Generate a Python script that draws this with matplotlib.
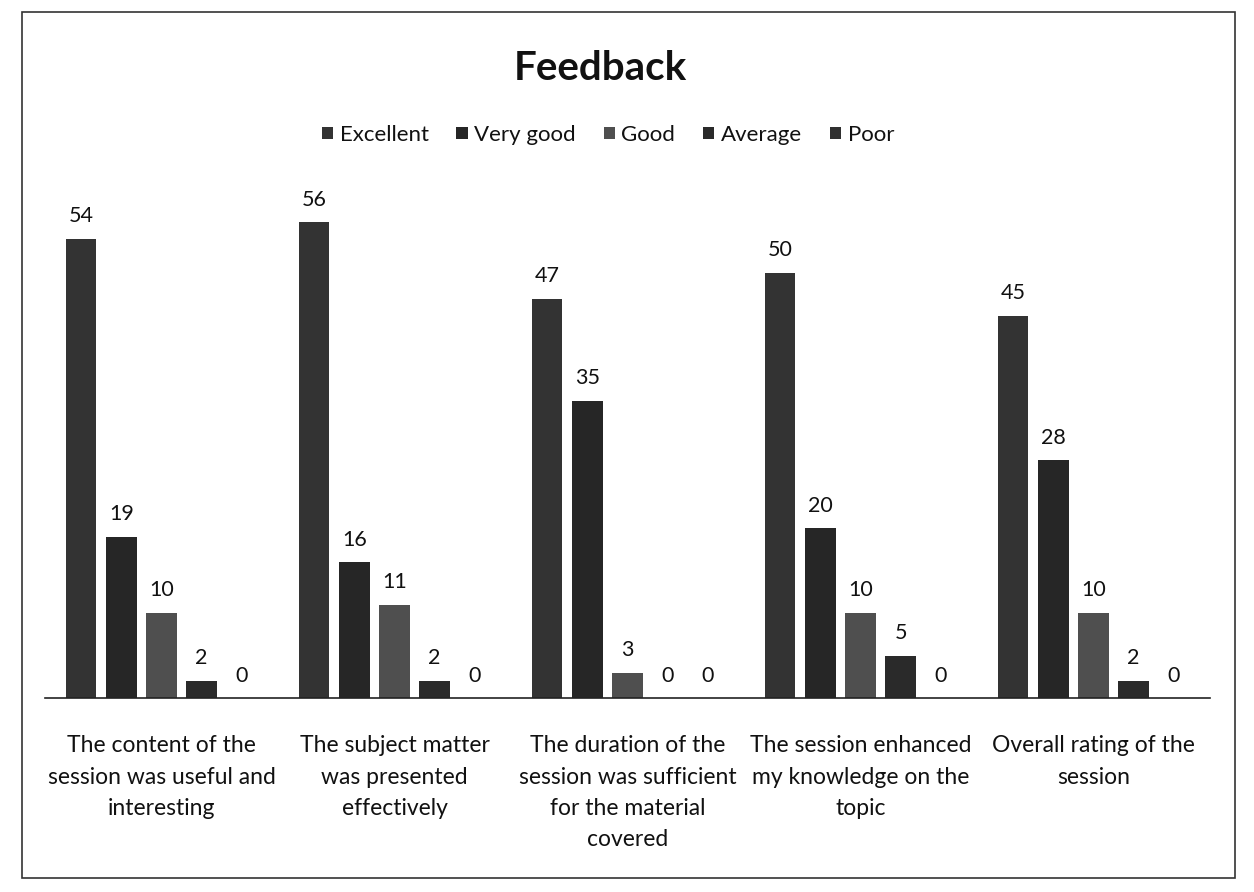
import matplotlib
matplotlib.use("Agg")
import matplotlib.pyplot as plt
import numpy as np
from matplotlib.patches import Rectangle

categories = [
    "The content of the\nsession was useful and\ninteresting",
    "The subject matter\nwas presented\neffectively",
    "The duration of the\nsession was sufficient\nfor the material\ncovered",
    "The session enhanced\nmy knowledge on the\ntopic",
    "Overall rating of the\nsession",
]
series_names = ["Excellent", "Very good", "Good", "Average", "Poor"]
excellent = [54, 56, 47, 50, 45]
very_good = [19, 16, 35, 20, 28]
good = [10, 11, 3, 10, 10]
average = [2, 2, 0, 5, 2]
poor = [0, 0, 0, 0, 0]
series_values = [excellent, very_good, good, average, poor]
colors = ["#333333", "#262626", "#4f4f4f", "#2a2a2a", "#303030"]

plt.rcParams['font.family'] = ['Lato', 'DejaVu Sans']

fig = plt.figure(figsize=(12.54, 8.92), dpi=100)
ax = fig.add_axes([45/1254, 194/892, 1165/1254, 510/892])

x = np.arange(len(categories))
bw = 0.13
step = 0.172
for i, (name, vals, c) in enumerate(zip(series_names, series_values, colors)):
    pos = x + (i - 2) * step
    bars = ax.bar(pos, vals, width=bw, color=c, label=name)
    for b, v in zip(bars, vals):
        ax.annotate(str(v), (b.get_x() + b.get_width()/2, b.get_height()),
                    xytext=(0, 9), textcoords="offset points",
                    ha="center", va="bottom", fontsize=15.5, color="#111111")

ax.set_xlim(-0.5, 4.5)
ax.set_ylim(0, 60)
for s in ["top", "right", "left"]:
    ax.spines[s].set_visible(False)
ax.spines["bottom"].set_color("#222222")
ax.spines["bottom"].set_linewidth(1.2)
ax.set_yticks([])
ax.set_xticks(x)
ax.set_xticklabels(categories, fontsize=16.5, color="#111111", linespacing=1.6)
ax.tick_params(axis="x", length=0, pad=27)

fig.text(600/1254, 1 - 68/892, "Feedback", ha="center", va="center",
         fontsize=29, fontweight="bold", color="#111111")

leg = fig.legend(loc="center", bbox_to_anchor=(608/1254, 1 - 135/892), ncol=5,
                 frameon=False, fontsize=16, handlelength=0.5, handleheight=0.5,
                 handletextpad=0.3, columnspacing=1.25)
for t in leg.get_texts():
    t.set_color("#111111")

fig.patches.append(Rectangle((22/1254, 1 - 878/892), (1235-22)/1254, (878-12)/892,
                             transform=fig.transFigure, fill=False,
                             edgecolor="#333333", linewidth=1.2))

fig.savefig("out.png", dpi=100, facecolor="white")
